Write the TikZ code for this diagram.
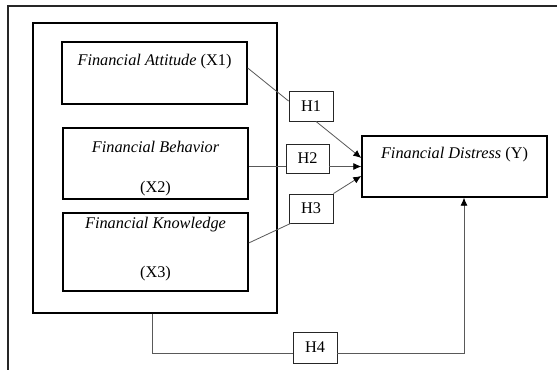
\documentclass[tikz,border=0pt]{standalone}
\usepackage{fontspec}
\setmainfont{Liberation Serif}
\usetikzlibrary{arrows.meta}
\begin{document}
\begin{tikzpicture}[x=1pt,y=-1pt,
  font=\fontsize{16.3}{19}\selectfont,
  mainbox/.style={draw=black,line width=1.4pt,inner sep=0pt},
  hbox/.style={draw=black!85,line width=0.9pt,inner sep=0pt,minimum width=44pt,minimum height=30pt},
  txt/.style={inner sep=0pt,anchor=center},
  conn/.style={draw=black!65,line width=0.8pt},
  arr/.style={conn,-{Latex[length=8pt,width=7pt,black]}}
]
\useasboundingbox (0,0) rectangle (557,370);
\fill[white] (0,0) rectangle (557,370);
% outer frame (top and left only)
\coordinate (ftr) at (557,6);
\coordinate (ftl) at (8,6);
\coordinate (fbl) at (8,370);
\draw[line width=1.4pt,black!85] (ftr) -- (ftl) -- (fbl);
% inner big box
\node[mainbox,minimum width=244pt,minimum height=290pt] (inner) at (155,168) {};
% X boxes
\node[mainbox,minimum width=185pt,minimum height=62pt] (x1) at (154.5,73) {};
\node[txt] (t1) at (154.5,62) {\textit{Financial Attitude} (X1)};
\node[mainbox,minimum width=185pt,minimum height=71pt] (x2) at (155.5,163.5) {};
\node[txt] (t2a) at (155.5,147) {\textit{Financial Behavior}};
\node[txt] (t2b) at (155.5,189) {(X2)};
\node[mainbox,minimum width=185pt,minimum height=78pt] (x3) at (155.5,252) {};
\node[txt] (t3a) at (155.5,225) {\textit{Financial Knowledge}};
\node[txt] (t3b) at (155.5,274) {(X3)};
% Y box
\node[mainbox,minimum width=185pt,minimum height=61pt] (y) at (454.5,166.5) {};
\node[txt] (ty) at (454.5,155) {\textit{Financial Distress} (Y)};
% H boxes
\node[hbox] (h1) at (311,106) {H1};
\node[hbox,minimum width=43pt,minimum height=29pt] (h2) at (307.5,158.5) {H2};
\node[hbox,minimum height=29pt] (h3) at (311,208.5) {H3};
\node[hbox,minimum height=31pt] (h4) at (315,347.5) {H4};
% connectors
\draw[conn] ([yshift=5pt]x1.east) -- ([yshift=5pt]h1.west);
\draw[arr] ([xshift=5pt]h1.south) -- ([yshift=8.5pt]y.west);
\draw[conn] (x2.east |- y.west) -- (h2.west |- y.west);
\draw[arr] (h2.east |- y.west) -- (y.west);
\draw[conn] ([yshift=9pt]x3.east) -- ([xshift=2pt]h3.south west);
\draw[arr] (h3.north east) -- ([yshift=-9.5pt]y.west);
\coordinate (c1) at (152,353);
\coordinate (c2) at (464,353);
\draw[conn] ([xshift=-3pt]inner.south) -- (c1) -- ([yshift=-5.5pt]h4.west);
\draw[arr] ([yshift=-5.5pt]h4.east) -- (c2) -- ([xshift=9.5pt]y.south);
\end{tikzpicture}
\end{document}
